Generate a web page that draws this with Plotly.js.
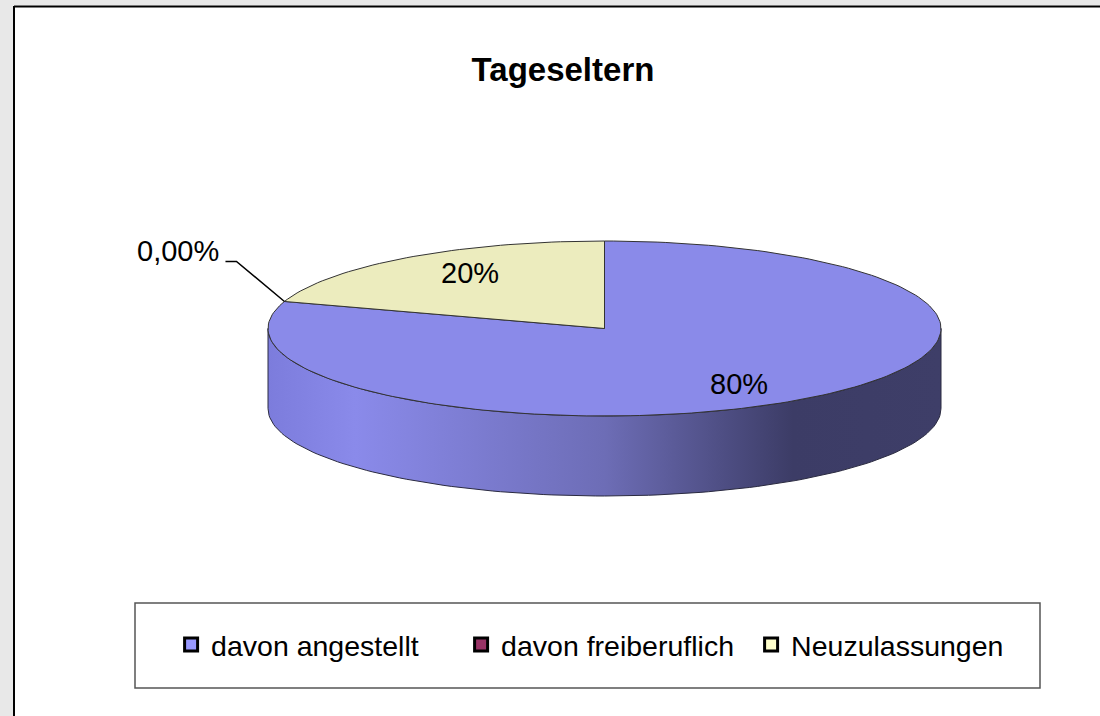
<!DOCTYPE html>
<html>
<head>
<meta charset="utf-8">
<script src="https://cdn.plot.ly/plotly-3.0.1.min.js"></script>
<style>
  html, body { margin: 0; padding: 0; background: #ffffff; }
  #chart { width: 1100px; height: 716px; }
</style>
</head>
<body>
<div id="chart"></div>
<script>
// ---- data ----
const categories = ['davon angestellt', 'davon freiberuflich', 'Neuzulassungen'];
const values = [80, 0, 20];
const percentLabels = ['80%', '0,00%', '20%'];
const topColors = ['#8a8ae9', '#993366', '#ececbe'];
const legendColors = ['#9999ff', '#993366', '#ffffcc'];
const chartTitle = 'Tageseltern';

// ---- geometry / style (layout, not data) ----
const W = 1100, H = 716;
const CX = 604.5, CY = 328.5, RX = 336.5, RY = 87.5, DEPTH = 80;
const FONT = 'Liberation Sans, Arial, sans-serif';
const sideGradient = [[0, '#7c7cdc'], [0.13, '#8a8aea'], [0.5, '#6d6db6'], [0.78, '#3c3c66'], [1, '#3e3e68']];

function pt(deg, dy) {
  const r = deg * Math.PI / 180;
  return [CX + RX * Math.sin(r), CY - RY * Math.cos(r) + (dy || 0)];
}
function arc(a0, a1, dy) {
  const n = Math.max(2, Math.ceil(Math.abs(a1 - a0) / 1.5));
  const out = [];
  for (let k = 0; k <= n; k++) out.push(pt(a0 + (a1 - a0) * k / n, dy));
  return out;
}

const total = values.reduce((a, b) => a + b, 0);
const sideTraces = [], topTraces = [], annotations = [], leaderTraces = [];
let cum = 0;
values.forEach((v, i) => {
  const a0 = 360 * cum / total, a1 = 360 * (cum + v) / total;
  cum += v;
  if (v > 0) {
    const s0 = Math.max(a0, 90), s1 = Math.min(a1, 270);
    if (s1 > s0) {
      const pts = arc(s0, s1, 0).concat(arc(s1, s0, DEPTH));
      pts.push(pts[0]);
      sideTraces.push({
        type: 'scatter', mode: 'lines', fill: 'toself',
        x: pts.map(p => p[0]), y: pts.map(p => p[1]),
        line: { color: '#2a2a40', width: 1 },
        fillgradient: { type: 'horizontal', colorscale: sideGradient },
        hoverinfo: 'skip', showlegend: false
      });
    }
    const pts = [[CX, CY]].concat(arc(a0, a1, 0));
    pts.push([CX, CY]);
    topTraces.push({
      type: 'scatter', mode: 'lines', fill: 'toself',
      x: pts.map(p => p[0]), y: pts.map(p => p[1]),
      fillcolor: topColors[i], line: { color: '#333333', width: 1 },
      hoverinfo: 'skip', showlegend: false, name: categories[i]
    });
    const mid = (a0 + a1) / 2 * Math.PI / 180;
    annotations.push({
      x: CX + RX * 0.68 * Math.sin(mid), y: CY - RY * 0.78 * Math.cos(mid),
      xref: 'x', yref: 'y', text: percentLabels[i], showarrow: false,
      font: { family: FONT, size: 29, color: '#000' }
    });
  } else {
    const e = pt(a0, 0);
    const elbow = [e[0] - 48, e[1] - 40];
    const stub = [elbow[0] - 11, elbow[1]];
    leaderTraces.push({
      type: 'scatter', mode: 'lines',
      x: [e[0], elbow[0], stub[0]], y: [e[1], elbow[1], stub[1]],
      line: { color: '#000', width: 1.5 }, hoverinfo: 'skip', showlegend: false
    });
    annotations.push({
      x: stub[0] - 4, y: stub[1] - 10, xref: 'x', yref: 'y',
      xanchor: 'right', yanchor: 'middle',
      text: percentLabels[i], showarrow: false,
      font: { family: FONT, size: 29, color: '#000' }
    });
  }
});

const legendTraces = categories.map((c, i) => ({
  type: 'scatter', mode: 'markers', x: [null], y: [null], name: c,
  marker: { symbol: 'square', size: 13, color: legendColors[i], line: { color: '#000', width: 3 } },
  hoverinfo: 'skip', showlegend: true
}));

const layout = {
  width: W, height: H,
  margin: { l: 0, r: 0, t: 0, b: 0 },
  paper_bgcolor: '#ffffff', plot_bgcolor: 'rgba(0,0,0,0)',
  xaxis: { range: [0, W], visible: false, fixedrange: true },
  yaxis: { range: [H, 0], visible: false, fixedrange: true },
  title: {
    text: '<b>' + chartTitle + '</b>',
    font: { family: FONT, size: 33, color: '#000' },
    x: 563 / W, xanchor: 'center', xref: 'paper',
    y: 1 - 69 / H, yanchor: 'middle', yref: 'paper'
  },
  showlegend: true,
  legend: {
    orientation: 'h', x: 0.551, xanchor: 'center', y: 1 - 645 / H, yanchor: 'middle',
    bgcolor: 'rgba(0,0,0,0)', borderwidth: 0,
    font: { family: FONT, size: 28.5, color: '#000' },
    itemwidth: 30, entrywidth: 245, entrywidthmode: 'pixels',
    itemclick: false, itemdoubleclick: false
  },
  shapes: [
    { type: 'rect', xref: 'x', yref: 'y', x0: 0, x1: 13, y0: 0, y1: H, fillcolor: '#e8e8e8', line: { width: 0 }, layer: 'below' },
    { type: 'rect', xref: 'x', yref: 'y', x0: 0, x1: W, y0: 0, y1: 5.5, fillcolor: '#e8e8e8', line: { width: 0 }, layer: 'below' },
    { type: 'line', xref: 'x', yref: 'y', x0: 14, x1: 14, y0: 6, y1: H, line: { color: '#000', width: 2 } },
    { type: 'line', xref: 'x', yref: 'y', x0: 14, x1: W, y0: 6.5, y1: 6.5, line: { color: '#000', width: 2 } },
    { type: 'rect', xref: 'x', yref: 'y', x0: 135, x1: 1040, y0: 603, y1: 688, line: { color: '#555', width: 1.5 }, fillcolor: 'rgba(0,0,0,0)' }
  ],
  annotations: annotations
};

Plotly.newPlot('chart', sideTraces.concat(topTraces, leaderTraces, legendTraces), layout, { displayModeBar: false, staticPlot: true });
</script>
</body>
</html>
